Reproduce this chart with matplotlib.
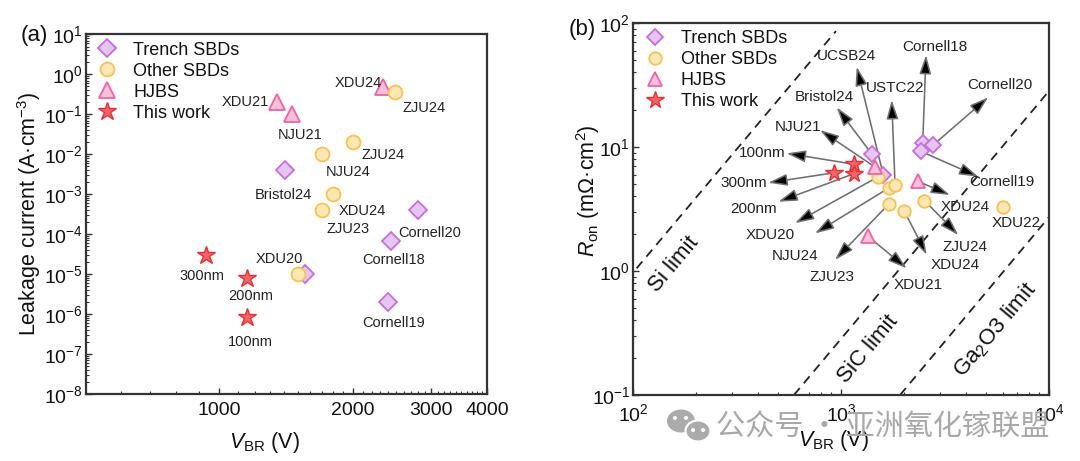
import numpy as np
import matplotlib
matplotlib.use('Agg')
import matplotlib.pyplot as plt
from matplotlib.ticker import FixedLocator, FixedFormatter, NullFormatter, LogLocator, LogFormatterSciNotation
from matplotlib.patches import Ellipse
from matplotlib.lines import Line2D

plt.rcParams['font.family'] = ['Liberation Sans', 'DejaVu Sans']
plt.rcParams['mathtext.fontset'] = 'custom'
plt.rcParams['mathtext.rm'] = 'Liberation Sans'
plt.rcParams['mathtext.it'] = 'Liberation Sans:italic'
plt.rcParams['mathtext.bf'] = 'Liberation Sans:bold'

# ---------------- Panel (a) data: breakdown voltage (V) vs leakage current (A/cm^3)
trench_v_a = [1402, 2794, 2432, 2393, 1560]
trench_l_a = [4e-3, 4e-4, 6.8e-5, 2e-6, 1e-5]
other_v_a = [2484, 2000, 1698, 1798, 1698, 1503]
other_l_a = [0.37, 0.02, 0.01, 1e-3, 4e-4, 1e-5]
hjbs_v_a = [1345, 1456, 2333]
hjbs_l_a = [0.21, 0.1, 0.49]
star_v_a = [933, 1154, 1154]
star_l_a = [3e-5, 7.8e-6, 8.6e-7]

labels_a = ['Bristol24', 'Cornell20', 'Cornell18', 'Cornell19', 'XDU24', 'ZJU24',
            'XDU21', 'NJU21', 'ZJU24', 'NJU24', 'XDU24', 'ZJU23', 'XDU20',
            '300nm', '200nm', '100nm']
label_v_a = [1394, 2968, 2472, 2472, 2057, 2887, 1141, 1518, 2333, 1950, 2094, 1950,
             1365, 913, 1177, 1173]
label_l_a = [9.7e-4, 1.08e-4, 2.2e-5, 5.9e-7, 0.62, 0.148, 0.207, 0.0313, 0.0099,
             0.00352, 3.8e-4, 1.33e-4, 2.35e-5, 9.2e-6, 2.8e-6, 2.0e-7]

# ---------------- Panel (b) data: breakdown voltage (V) vs Ron (mOhm cm^2)
trench_names_b = ['Bristol24', 'UCSB24', 'Cornell18', 'Cornell20', 'Cornell19']
trench_v_b = [1405, 1600, 2471, 2780, 2427]
trench_r_b = [8.8, 5.9, 10.8, 10.4, 9.2]
other_names_b = ['XDU20', 'NJU24', 'USTC22', 'ZJU23', 'XDU24', 'ZJU24', 'XDU22']
other_v_b = [1511, 1706, 1820, 1706, 2015, 2518, 6030]
other_r_b = [5.76, 4.7, 4.9, 3.5, 3.05, 3.7, 3.3]
hjbs_names_b = ['NJU21', 'XDU24', 'XDU21']
hjbs_v_b = [1457, 2337, 1352]
hjbs_r_b = [6.9, 5.3, 1.9]
star_names_b = ['300nm', '100nm', '200nm']
star_v_b = [930, 1158, 1158]
star_r_b = [6.2, 7.25, 6.1]

# arrow tips and label centres, in order of the series name lists above
trench_tip_v = [953, 1190, 2563, 5106, 4572]
trench_tip_r = [20.9, 44.4, 55.2, 25.2, 5.76]
trench_lab_v = [828, 1065, 2831, 5810, 5924]
trench_lab_r = [25.2, 54.2, 64.4, 31.6, 5.19]
other_tip_v = [601, 750, 1753, 936, 2582, 3664, None]
other_tip_r = [2.43, 2.01, 23.9, 1.23, 1.35, 1.95, None]
other_lab_v = [456, 601, 1820, 902, 3532, 3945, 6995]
other_lab_r = [1.95, 1.32, 29.7, 0.89, 1.12, 1.57, 2.43]
hjbs_tip_v = [793, 3342, 2070]
hjbs_tip_r = [13.7, 4.10, 1.05]
hjbs_lab_v = [623, 3945, 2353]
hjbs_lab_r = [14.4, 3.30, 0.77]
star_tip_v = [447, 548, 500]
star_tip_r = [5.15, 8.9, 3.62]
star_lab_v = [339, 416, 379]
star_lab_r = [5.15, 8.9, 3.15]

# limit lines (end points)
limit_names = ['Si limit', 'SiC limit', 'Ga$_2$O3 limit']
limit_v = [[104, 946], [594, 10000], [1923, 10000]]
limit_r = [[1.05, 86], [0.1, 28.3], [0.1, 2.72]]
limit_text_v = [158, 1343, 5497]
limit_text_r = [1.13, 0.235, 0.334]

# ---------------- styles
TR = dict(marker='D', mfc='#e7c5f1', mec='#c570d8', mew=1.3, ls='none')
OT = dict(marker='o', mfc='#fde8b3', mec='#f4c257', mew=1.3, ls='none')
HJ = dict(marker='^', mfc='#f8bfd8', mec='#ec64a5', mew=1.3, ls='none')
ST = dict(marker='*', mfc='#f36565', mec='#e2303a', mew=1.0, ls='none')
SIZES_A = dict(D=9.0, o=10.0, t=11.0, s=13.5)
SIZES_B = dict(D=7.8, o=9.0, t=10.0, s=13.0)
TXT = '#222222'
SPINE = '#333333'

fig = plt.figure(figsize=(10.8, 4.61), dpi=100)
ax1 = fig.add_axes([85.5 / 1080, 1 - 394 / 461, 401.5 / 1080, 359.5 / 461])
ax2 = fig.add_axes([633 / 1080, 1 - 395 / 461, 416 / 1080, 372 / 461])


def style_axes(ax):
    for s in ax.spines.values():
        s.set_color(SPINE)
        s.set_linewidth(1.6)
    ax.tick_params(which='both', direction='in', top=False, right=False, colors=SPINE,
                   labelcolor='#111111', labelsize=14)
    ax.tick_params(which='major', length=4.5, width=1.0)
    ax.tick_params(which='minor', length=2.5, width=0.8)


# ---------------- panel (a)
ax1.set_xscale('log')
ax1.set_yscale('log')
ax1.plot(trench_v_a, trench_l_a, ms=SIZES_A['D'], zorder=3, **TR)
ax1.plot(other_v_a, other_l_a, ms=SIZES_A['o'], zorder=4, **OT)
ax1.plot(hjbs_v_a, hjbs_l_a, ms=SIZES_A['t'], zorder=3, **HJ)
ax1.plot(star_v_a, star_l_a, ms=SIZES_A['s'], zorder=5, **ST)
for name, v, l in zip(labels_a, label_v_a, label_l_a):
    ax1.text(v, l, name, ha='center', va='center', fontsize=10.5, color=TXT)
ax1.set_xlim(500, 4000)
ax1.set_ylim(1e-8, 10)
style_axes(ax1)
ax1.xaxis.set_major_locator(FixedLocator([1000, 2000, 3000, 4000]))
ax1.xaxis.set_major_formatter(FixedFormatter(['1000', '2000', '3000', '4000']))
minor_x = [v for v in range(600, 4000, 100) if v not in (1000, 2000, 3000)]
ax1.xaxis.set_minor_locator(FixedLocator(minor_x))
ax1.xaxis.set_minor_formatter(NullFormatter())
ax1.yaxis.set_major_locator(LogLocator(base=10, numticks=20))
ax1.yaxis.set_major_formatter(LogFormatterSciNotation())
ax1.yaxis.set_minor_locator(LogLocator(base=10, subs=np.arange(2, 10), numticks=20))
ax1.yaxis.set_minor_formatter(NullFormatter())
ax1.tick_params(axis='x', pad=6)
ax1.tick_params(axis='y', pad=2)
ax1.set_ylabel('Leakage current (A·cm$^{-3}$)', fontsize=15.5, color='#111111')
ax1.yaxis.set_label_coords(-0.105, 0.5)
ax1.set_xlabel('$V_{\\mathrm{BR}}$ (V)', fontsize=15.5, color='#111111')
ax1.xaxis.set_label_coords(0.445, -0.1)

# ---------------- panel (b)
ax2.set_xscale('log')
ax2.set_yscale('log')
for name, vv, rr in zip(limit_names, limit_v, limit_r):
    ax2.plot(vv, rr, color='#222222', lw=1.3, ls=(0, (5, 3.5)), zorder=1)
for name, v, r in zip(limit_names, limit_text_v, limit_text_r):
    ax2.text(v, r, name, rotation=50, ha='center', va='center', fontsize=16,
             color='#111111', rotation_mode='anchor')

ARW = dict(arrowstyle='-|>,head_length=1.15,head_width=0.36', mutation_scale=10,
           fc='black', ec='#6f6f6f', lw=1.15, shrinkA=0, shrinkB=0)


def annotate_series(names, sv, sr, tv, tr, lv, lr):
    for i, name in enumerate(names):
        if tv[i] is not None:
            ax2.annotate('', xy=(tv[i], tr[i]), xytext=(sv[i], sr[i]),
                         arrowprops=ARW, zorder=2)
        ax2.text(lv[i], lr[i], name, ha='center', va='center', fontsize=11, color=TXT,
                 zorder=6)


annotate_series(trench_names_b, trench_v_b, trench_r_b, trench_tip_v, trench_tip_r,
                trench_lab_v, trench_lab_r)
annotate_series(other_names_b, other_v_b, other_r_b, other_tip_v, other_tip_r,
                other_lab_v, other_lab_r)
annotate_series(hjbs_names_b, hjbs_v_b, hjbs_r_b, hjbs_tip_v, hjbs_tip_r,
                hjbs_lab_v, hjbs_lab_r)
annotate_series(star_names_b, star_v_b, star_r_b, star_tip_v, star_tip_r,
                star_lab_v, star_lab_r)

ax2.plot(trench_v_b, trench_r_b, ms=SIZES_B['D'], zorder=3, **TR)
ax2.plot(other_v_b, other_r_b, ms=SIZES_B['o'], zorder=4, **OT)
ax2.plot(hjbs_v_b, hjbs_r_b, ms=SIZES_B['t'], zorder=4, **HJ)
ax2.plot(star_v_b, star_r_b, ms=SIZES_B['s'], zorder=5, **ST)
ax2.set_xlim(100, 1e4)
ax2.set_ylim(0.1, 100)
style_axes(ax2)
ax2.xaxis.set_major_locator(LogLocator(base=10, numticks=10))
ax2.xaxis.set_major_formatter(LogFormatterSciNotation())
ax2.xaxis.set_minor_locator(LogLocator(base=10, subs=np.arange(2, 10), numticks=10))
ax2.xaxis.set_minor_formatter(NullFormatter())
ax2.yaxis.set_major_locator(LogLocator(base=10, numticks=10))
ax2.yaxis.set_major_formatter(LogFormatterSciNotation())
ax2.yaxis.set_minor_locator(LogLocator(base=10, subs=np.arange(2, 10), numticks=10))
ax2.yaxis.set_minor_formatter(NullFormatter())
ax2.tick_params(axis='x', pad=6)
ax2.tick_params(axis='y', pad=2)
ax2.set_ylabel('$R_{\\mathrm{on}}$ (mΩ·cm$^{2}$)', fontsize=15.5, color='#111111')
ax2.yaxis.set_label_coords(-0.075, 0.55)
ax2.set_xlabel('$V_{\\mathrm{BR}}$ (V)', fontsize=15.5, color='#111111')
ax2.xaxis.set_label_coords(0.483, -0.09)

# ---------------- legends
leg_names = ['Trench SBDs', 'Other SBDs', 'HJBS', 'This work']
for ax, sz in ((ax1, SIZES_A), (ax2, SIZES_B)):
    handles = [Line2D([], [], ms=sz['D'], **TR), Line2D([], [], ms=sz['o'], **OT),
               Line2D([], [], ms=sz['t'], **HJ), Line2D([], [], ms=sz['s'], **ST)]
    leg = ax.legend(handles, leg_names, loc='upper left', frameon=False, fontsize=13,
                    numpoints=1, handlelength=1.6, handletextpad=0.64, borderaxespad=0.2,
                    borderpad=0.2, labelspacing=0.22)
    for t in leg.get_texts():
        t.set_color('#111111')

# ---------------- panel labels
fig.text(34.5 / 1080, 1 - 36 / 461, '(a)', fontsize=16, ha='center', va='center', color='#111111')
fig.text(582 / 1080, 1 - 29 / 461, '(b)', fontsize=16, ha='center', va='center', color='#111111')

# ---------------- watermark
def bubble(x, y, w, h, **kw):
    fig.add_artist(Ellipse((x / 1080, 1 - y / 461), w / 1080, h / 461,
                           transform=fig.transFigure, **kw))

bubble(681, 421, 28, 23, fc='#ababab', ec='none', zorder=10)
bubble(698, 431, 25, 21, fc='#ababab', ec='white', lw=1.5, zorder=11)
for ex, ey, z in ((675, 418, 10.5), (686, 418, 10.5), (693, 430, 11.5), (703, 430, 11.5)):
    bubble(ex, ey, 4, 4, fc='white', ec='none', zorder=z)
fig.text(716 / 1080, 1 - 428 / 461, '公众号 · 亚洲氧化镓联盟', fontsize=21, color='#a8a8a8',
         family=['Noto Sans CJK SC', 'DejaVu Sans'], ha='left', va='center', zorder=12)

fig.savefig('out.png', dpi=100)
